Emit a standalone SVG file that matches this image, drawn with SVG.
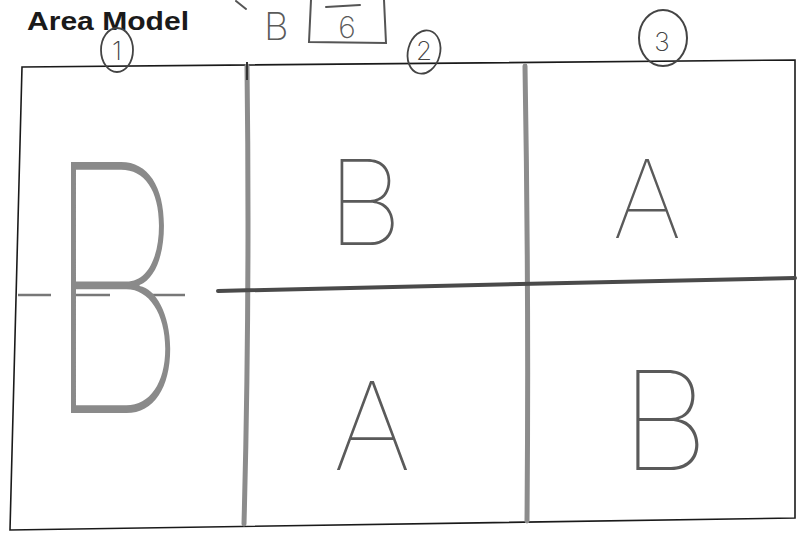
<svg xmlns="http://www.w3.org/2000/svg" width="801" height="533" viewBox="0 0 801 533">
<style>
.frame{fill:none;stroke:#1a1a1a;stroke-width:1.6}
.grey{fill:none;stroke:#8c8c8c;stroke-width:5;stroke-linecap:round}
.dark{fill:none;stroke:#4a4a4a;stroke-width:4;stroke-linecap:round}
.pen{fill:none;stroke:#555;stroke-width:2;stroke-linecap:round}
.hand{font-family:Inter,"DejaVu Sans",sans-serif;font-weight:100;fill:#5a5a5a}
.big{font-family:Inter,"DejaVu Sans",sans-serif;font-weight:100;fill:#8a8a8a}
.num{font-family:Inter,"DejaVu Sans",sans-serif;font-weight:200;fill:#444;font-size:26px;text-anchor:middle}
.title{font-family:"Liberation Sans",Arial,sans-serif;font-weight:bold;font-size:25px;fill:#1a1a1a}
</style>
<rect width="801" height="533" fill="#fff"/>
<g id="title"><text class="title" x="27" y="30" textLength="162" lengthAdjust="spacingAndGlyphs">Area Model</text></g>
<g id="header-scribble">
<path class="pen" d="M236 1 L246 9"/>
<text class="hand" x="264" y="40" font-size="38" style="font-weight:200">B</text>
<path class="pen" d="M311 0 L309 42 L386 43 L384 0"/>
<path class="pen" d="M326 7 L360 5"/>
<text class="hand" x="347" y="38" font-size="30" text-anchor="middle" style="font-weight:200">6</text>
</g>
<g id="frame">
<path class="frame" d="M22 67 L795 60 L795 518 L10 530 Z"/>
</g>
<g id="dividers">
<path class="grey" d="M247 66 Q250 300 244 524"/>
<path class="grey" d="M525 66 Q529 300 527 521" stroke-width="6"/>
<path class="dark" d="M218 291 L520 284 L795 278"/>
<path d="M18 295 L51 295 M74 295 L110 295 M150 295 L185 295" fill="none" stroke-width="2.5" stroke="#777"/>
<path d="M247 62 L247 80" stroke="#333" stroke-width="2"/>
</g>
<g id="labels">
<g id="n1"><ellipse cx="117" cy="50" rx="16" ry="22" fill="none" stroke="#444" stroke-width="1.8"/><text class="num" x="117" y="60">1</text></g>
<g id="n2"><ellipse cx="424" cy="52" rx="16" ry="22" fill="none" stroke="#444" stroke-width="1.8" transform="rotate(15 424 52)"/><text class="num" x="424" y="60" font-size="22">2</text></g>
<g id="n3"><ellipse cx="663" cy="38" rx="24" ry="28" fill="none" stroke="#444" stroke-width="2"/><text class="num" x="662" y="51" font-size="34">3</text></g>
</g>
<g id="cell1"><text class="big" transform="translate(46 413) scale(0.64 1)" font-size="345">B</text></g>
<g id="cell2"><text class="hand" x="365" y="245" font-size="118" text-anchor="middle">B</text></g>
<g id="cell3"><text class="hand" x="647" y="238" font-size="108" text-anchor="middle">A</text></g>
<g id="cell4"><text class="hand" x="372" y="470" font-size="122" text-anchor="middle">A</text></g>
<g id="cell5"><text class="hand" x="665" y="470" font-size="138" text-anchor="middle">B</text></g>
</svg>
